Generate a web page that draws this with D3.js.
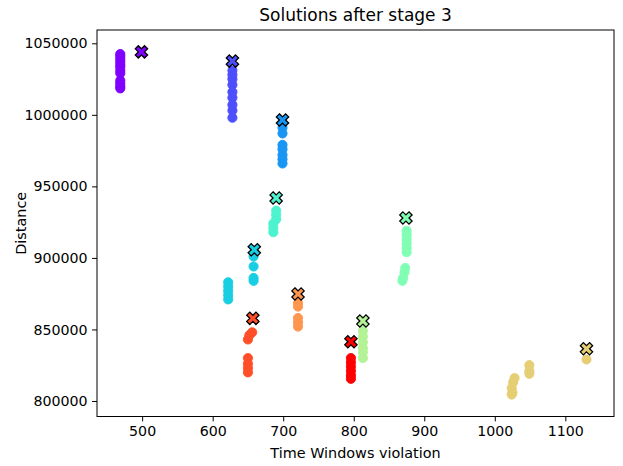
<!DOCTYPE html>
<html>
<head>
<meta charset="utf-8">
<script src="https://cdn.jsdelivr.net/npm/d3@7"></script>
<style>
  body { margin: 0; background: #fff; }
  svg { display: block; font-family: "DejaVu Sans", sans-serif; }
</style>
</head>
<body>
<div id="chart"></div>
<script>
// ---- Data ----
const titleText = "Solutions after stage 3";
const xLabel = "Time Windows violation";
const yLabel = "Distance";
const xTicks = [500, 600, 700, 800, 900, 1000, 1100];
const yTicks = [800000, 850000, 900000, 950000, 1000000, 1050000];
const xDomain = [436, 1169];
const yDomain = [789160, 1059300];

// cluster colours (matplotlib "rainbow", 11 steps)
const clusterIndex = [0, 1, 2, 3, 4, 5, 6, 7, 8, 9, 10];

// solutions per cluster: [violation, distance]
const cluster0 = [[469,1042500],[469,1041000],[469,1039000],[469,1037000],[469,1035000],[469,1033500],[469,1031000],[469,1029000],[469,1024000],[469,1022000],[469,1020000],[469,1018500]];
const cluster1 = [[628,1031000],[628,1028000],[628,1025000],[628,1021000],[628,1016000],[628,1012000],[628,1007000],[628,1003000],[628,998000]];
const cluster2 = [[699,991000],[699,987000],[699,979000],[699,976000],[699,972000],[699,969000],[699,966000]];
const cluster3 = [[658,901000],[658,894000],[658,886000],[658,884000],[622,883000],[622,880000],[622,877000],[622,874000],[622,871000]];
const cluster4 = [[690,933000],[690,930000],[690,927000],[686,924000],[686,921000],[686,918000]];
const cluster5 = [[875,919000],[875,916000],[875,913000],[875,910000],[875,907000],[875,904000],[873,893000],[872,890000],[870,886000],[869,884000]];
const cluster6 = [[813,849000],[813,845000],[813,841000],[813,837000],[813,834000],[813,830000]];
const cluster7 = [[1130,829000],[1049,825000],[1049,821000],[1049,819000],[1028,816000],[1026,813000],[1024,809000],[1025,806000],[1024,804500]];
const cluster8 = [[721,868500],[721,866000],[721,858000],[721,855000],[721,852000]];
const cluster9 = [[656,848000],[652,846000],[650,843000],[650,830000],[650,826000],[650,823000],[650,820000]];
const cluster10 = [[796,830000],[796,827000],[796,824000],[796,821000],[796,818000],[796,815500]];
const clusters = [cluster0, cluster1, cluster2, cluster3, cluster4, cluster5, cluster6, cluster7, cluster8, cluster9, cluster10];

// best solution (X marker) per cluster
const bestX = [499, 628, 699, 659, 690, 874, 813, 1130, 721, 657, 796];
const bestY = [1044000, 1037600, 996400, 905700, 941900, 927900, 855900, 836500, 874800, 857800, 841400];

// ---- Layout ----
const W = 623, H = 466;
const m = { left: 97, right: 614, top: 30, bottom: 416.5 };

const svg = d3.select("#chart").append("svg")
  .attr("width", W).attr("height", H);

const x = d3.scaleLinear().domain(xDomain).range([m.left, m.right]);
const y = d3.scaleLinear().domain(yDomain).range([m.bottom, m.top]);

function rainbow(t) {
  const r = Math.min(1, Math.abs(2 * t - 0.5));
  const g = Math.sin(Math.PI * t);
  const b = Math.cos(Math.PI / 2 * t);
  return d3.rgb(Math.round(r * 255), Math.round(g * 255), Math.round(b * 255)).formatHex();
}
const color = i => rainbow(i / (clusterIndex.length - 1));

// points
clusterIndex.forEach(ci => {
  svg.append("g").selectAll("circle")
    .data(clusters[ci]).enter().append("circle")
    .attr("cx", d => x(d[0]))
    .attr("cy", d => y(d[1]))
    .attr("r", 4.6)
    .attr("fill", color(ci))
    .attr("stroke", color(ci))
    .attr("stroke-width", 0.9);
});

// X markers
const xSym = d3.symbol().type(d3.symbolCross).size(95);
svg.append("g").selectAll("path")
  .data(clusterIndex).enter().append("path")
  .attr("d", xSym)
  .attr("transform", i => `translate(${x(bestX[i])},${y(bestY[i])}) rotate(45)`)
  .attr("fill", i => color(i))
  .attr("stroke", "#000")
  .attr("stroke-width", 1.3)
  .attr("stroke-linejoin", "miter");

// axes
const xAxis = d3.axisBottom(x).tickValues(xTicks).tickSize(4.9).tickPadding(4.3).tickFormat(d3.format("d"));
const yAxis = d3.axisLeft(y).tickValues(yTicks).tickSize(4.9).tickPadding(4.5).tickFormat(d3.format("d"));

const gx = svg.append("g").attr("transform", `translate(0,${m.bottom})`).call(xAxis);
const gy = svg.append("g").attr("transform", `translate(${m.left},0)`).call(yAxis);
[gx, gy].forEach(g => {
  g.select(".domain").remove();
  g.selectAll(".tick line").attr("stroke", "#000").attr("stroke-width", 1);
  g.selectAll(".tick text").attr("fill", "#000").style("font-size", "14.2px")
    .style("font-family", "'DejaVu Sans', sans-serif");
});

// frame
svg.append("rect")
  .attr("x", m.left).attr("y", m.top)
  .attr("width", m.right - m.left).attr("height", m.bottom - m.top)
  .attr("fill", "none").attr("stroke", "#000").attr("stroke-width", 1);

// title and labels
svg.append("text")
  .attr("x", (m.left + m.right) / 2).attr("y", 21)
  .attr("text-anchor", "middle")
  .style("font-size", "17px")
  .text(titleText);

svg.append("text")
  .attr("x", (m.left + m.right) / 2).attr("y", 457.5)
  .attr("text-anchor", "middle")
  .style("font-size", "14.4px")
  .text(xLabel);

svg.append("text")
  .attr("transform", `translate(25.5,${(m.top + m.bottom) / 2}) rotate(-90)`)
  .attr("text-anchor", "middle")
  .style("font-size", "14.4px")
  .text(yLabel);
</script>
</body>
</html>
